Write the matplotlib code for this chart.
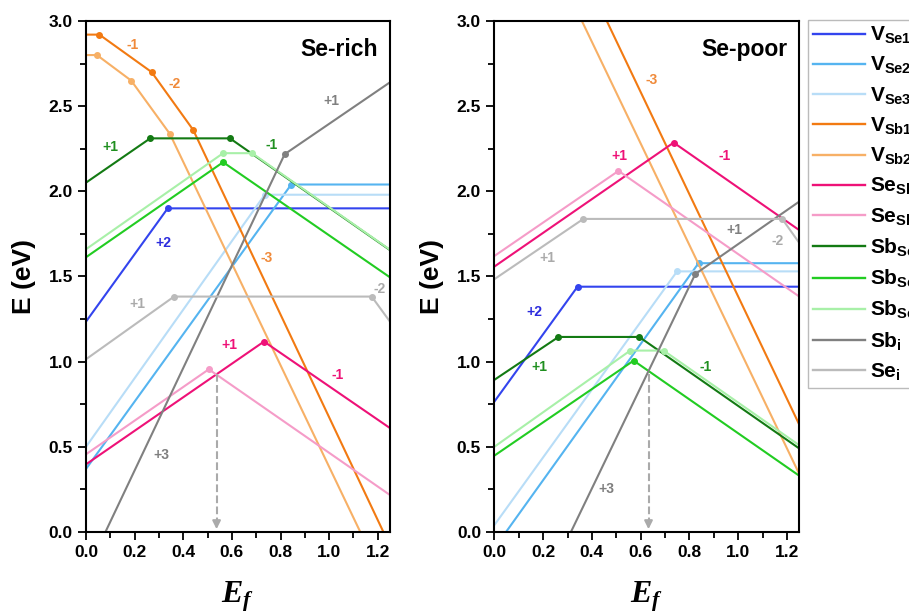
import matplotlib
matplotlib.use('Agg')
import matplotlib.pyplot as plt
from matplotlib.lines import Line2D
from matplotlib.ticker import MultipleLocator

plt.rcParams['font.family'] = ['Liberation Sans', 'DejaVu Sans']
plt.rcParams['font.weight'] = 'bold'
plt.rcParams['mathtext.fontset'] = 'custom'
plt.rcParams['mathtext.bf'] = 'Liberation Sans:bold'
plt.rcParams['mathtext.rm'] = 'Liberation Sans:bold'
plt.rcParams['mathtext.it'] = 'Liberation Sans:italic:bold'
plt.rcParams['mathtext.bfit'] = 'Liberation Serif:italic:bold'

# defect names (legend order) and colours
defects = ['V_{Se1}', 'V_{Se2}', 'V_{Se3}', 'V_{Sb1}', 'V_{Sb2}', 'Se_{Sb1}',
           'Se_{Sb2}', 'Sb_{Se1}', 'Sb_{Se2}', 'Sb_{Se3}', 'Sb_{i}', 'Se_{i}']
colors = ['#3344ee', '#55b4f0', '#b8ddf7', '#f27a12', '#f7b066', '#ee1177',
          '#f59cc8', '#137a13', '#22cc22', '#a8f0a8', '#808080', '#bbbbbb']

# ---- Se-rich: transition-level vertices (Ef, E) ----
rich_vse1_x = [0.0, 0.336, 1.25]
rich_vse1_y = [1.235, 1.90, 1.90]
rich_vse2_x = [0.0, 0.844, 1.25]
rich_vse2_y = [0.37, 2.04, 2.04]
rich_vse3_x = [0.0, 0.735, 1.25]
rich_vse3_y = [0.50, 1.98, 1.98]
rich_vsb1_x = [0.0, 0.055, 0.27, 0.441, 1.223]
rich_vsb1_y = [2.92, 2.92, 2.70, 2.36, 0.0]
rich_vsb2_x = [0.0, 0.045, 0.186, 0.345, 1.128]
rich_vsb2_y = [2.80, 2.80, 2.65, 2.337, 0.0]
rich_sesb1_x = [0.0, 0.732, 1.25]
rich_sesb1_y = [0.397, 1.118, 0.61]
rich_sesb2_x = [0.0, 0.505, 1.25]
rich_sesb2_y = [0.456, 0.955, 0.217]
rich_sbse1_x = [0.0, 0.264, 0.592, 1.25]
rich_sbse1_y = [2.051, 2.311, 2.311, 1.655]
rich_sbse2_x = [0.0, 0.564, 1.25]
rich_sbse2_y = [1.613, 2.171, 1.495]
rich_sbse3_x = [0.0, 0.564, 0.683, 1.25]
rich_sbse3_y = [1.66, 2.224, 2.224, 1.657]
rich_sbi_x = [0.08, 0.817, 1.25]
rich_sbi_y = [0.0, 2.218, 2.64]
rich_sei_x = [0.0, 0.362, 1.175, 1.25]
rich_sei_y = [1.014, 1.382, 1.382, 1.235]

# ---- Se-poor ----
poor_vse1_x = [0.0, 0.341, 1.25]
poor_vse1_y = [0.765, 1.44, 1.44]
poor_vse2_x = [0.048, 0.837, 1.25]
poor_vse2_y = [0.0, 1.578, 1.578]
poor_vse3_x = [0.0, 0.749, 1.25]
poor_vse3_y = [0.04, 1.53, 1.53]
poor_vsb1_x = [0.461, 1.25]
poor_vsb1_y = [3.0, 0.63]
poor_vsb2_x = [0.359, 1.25]
poor_vsb2_y = [3.0, 0.34]
poor_sesb1_x = [0.0, 0.735, 1.25]
poor_sesb1_y = [1.558, 2.286, 1.772]
poor_sesb2_x = [0.0, 0.509, 1.25]
poor_sesb2_y = [1.62, 2.12, 1.382]
poor_sbse1_x = [0.0, 0.263, 0.594, 1.25]
poor_sbse1_y = [0.893, 1.145, 1.145, 0.49]
poor_sbse2_x = [0.0, 0.571, 1.25]
poor_sbse2_y = [0.448, 1.006, 0.33]
poor_sbse3_x = [0.0, 0.557, 0.694, 1.25]
poor_sbse3_y = [0.50, 1.065, 1.065, 0.509]
poor_sbi_x = [0.314, 0.824, 1.25]
poor_sbi_y = [0.0, 1.515, 1.94]
poor_sei_x = [0.0, 0.365, 1.18, 1.25]
poor_sei_y = [1.484, 1.838, 1.838, 1.697]

# Fermi-level pinning (Ef, start of arrow)
rich_pin = (0.537, 0.93)
poor_pin = (0.632, 0.93)

rich_lines = [(rich_vse1_x, rich_vse1_y), (rich_vse2_x, rich_vse2_y), (rich_vse3_x, rich_vse3_y),
              (rich_vsb1_x, rich_vsb1_y), (rich_vsb2_x, rich_vsb2_y), (rich_sesb1_x, rich_sesb1_y),
              (rich_sesb2_x, rich_sesb2_y), (rich_sbse1_x, rich_sbse1_y), (rich_sbse2_x, rich_sbse2_y),
              (rich_sbse3_x, rich_sbse3_y), (rich_sbi_x, rich_sbi_y), (rich_sei_x, rich_sei_y)]
poor_lines = [(poor_vse1_x, poor_vse1_y), (poor_vse2_x, poor_vse2_y), (poor_vse3_x, poor_vse3_y),
              (poor_vsb1_x, poor_vsb1_y), (poor_vsb2_x, poor_vsb2_y), (poor_sesb1_x, poor_sesb1_y),
              (poor_sesb2_x, poor_sesb2_y), (poor_sbse1_x, poor_sbse1_y), (poor_sbse2_x, poor_sbse2_y),
              (poor_sbse3_x, poor_sbse3_y), (poor_sbi_x, poor_sbi_y), (poor_sei_x, poor_sei_y)]

# charge-state labels: text, Ef, E, colour
c_or, c_gr, c_bl, c_gy, c_lg, c_mg = '#f08a3a', '#1f8f1f', '#2b2bdd', '#7f7f7f', '#aaaaaa', '#ee1177'
rich_labels = [('-1', 0.193, 2.86, c_or), ('-2', 0.366, 2.63, c_or), ('-3', 0.742, 1.61, c_or),
               ('+1', 0.10, 2.26, c_gr), ('-1', 0.762, 2.27, c_gr), ('+2', 0.318, 1.695, c_bl),
               ('+1', 1.008, 2.53, c_gy), ('+3', 0.311, 0.45, c_gy), ('+1', 0.213, 1.34, c_lg),
               ('-2', 1.206, 1.425, c_lg), ('+1', 0.589, 1.10, c_mg), ('-1', 1.035, 0.92, c_mg)]
poor_labels = [('-3', 0.646, 2.655, c_or), ('+1', 0.513, 2.21, c_mg), ('-1', 0.943, 2.21, c_mg),
               ('+1', 0.985, 1.773, c_gy), ('-2', 1.159, 1.711, c_lg), ('+1', 0.219, 1.611, c_lg),
               ('+2', 0.164, 1.294, c_bl), ('+1', 0.185, 0.971, c_gr), ('-1', 0.865, 0.967, c_gr),
               ('+3', 0.458, 0.252, c_gy)]

fig = plt.figure(figsize=(9.09, 6.14), dpi=100)
ax1 = fig.add_axes([0.0946, 0.1336, 0.3344, 0.8322])
ax2 = fig.add_axes([0.5438, 0.1336, 0.3355, 0.8322])


def draw_panel(ax, lines, labels, pin, title):
    for (x, y), c in zip(lines, colors):
        inner = list(range(1, len(x) - 1))
        if inner:
            ax.plot(x, y, color=c, lw=1.5, marker='o', ms=4, markevery=inner)
        else:
            ax.plot(x, y, color=c, lw=1.5)
    for t, x, y, c in labels:
        ax.text(x, y, t, color=c, fontsize=10, fontweight='bold', ha='center', va='center')
    # dashed arrow down to the pinned Fermi level
    ax.plot([pin[0], pin[0]], [pin[1], 0.06], ls='--', color='#aaaaaa', lw=1.5)
    ax.annotate('', xy=(pin[0], 0.0), xytext=(pin[0], 0.08),
                arrowprops=dict(arrowstyle='-|>', color='#aaaaaa', lw=1.5, mutation_scale=12))
    ax.text(0.96, 0.945, title, transform=ax.transAxes, fontsize=16.5, fontweight='bold',
            ha='right', va='center')
    ax.set_xlim(0, 1.25)
    ax.set_ylim(0, 3.0)
    ax.xaxis.set_major_locator(MultipleLocator(0.2))
    ax.xaxis.set_minor_locator(MultipleLocator(0.1))
    ax.yaxis.set_major_locator(MultipleLocator(0.5))
    ax.yaxis.set_minor_locator(MultipleLocator(0.25))
    ax.tick_params(which='major', direction='out', length=6, width=1.3, labelsize=12.5)
    ax.tick_params(which='minor', direction='out', length=4, width=1.3)
    for lab in ax.get_xticklabels() + ax.get_yticklabels():
        lab.set_fontweight('bold')
    for s in ax.spines.values():
        s.set_linewidth(1.5)
    ax.set_ylabel('E (eV)', fontsize=19, fontweight='bold', labelpad=9)
    ax.set_xlabel(r'$\mathbfit{E_f}$', fontsize=23, labelpad=14)


draw_panel(ax1, rich_lines, rich_labels, rich_pin, 'Se-rich')
draw_panel(ax2, poor_lines, poor_labels, poor_pin, 'Se-poor')

handles = [Line2D([], [], color=c, lw=1.7) for c in colors]
names = [r'$\mathbf{' + d + '}$' for d in defects]
leg = fig.legend(handles, names, loc='upper left', bbox_to_anchor=(0.889, 0.968),
                 borderaxespad=0, fontsize=15, handlelength=2.5, labelspacing=0.43,
                 fancybox=False, framealpha=1, edgecolor='#bbbbbb', handletextpad=0.2,
                 borderpad=0.25)
leg.get_frame().set_linewidth(1.0)

fig.savefig('out.png', dpi=100)
